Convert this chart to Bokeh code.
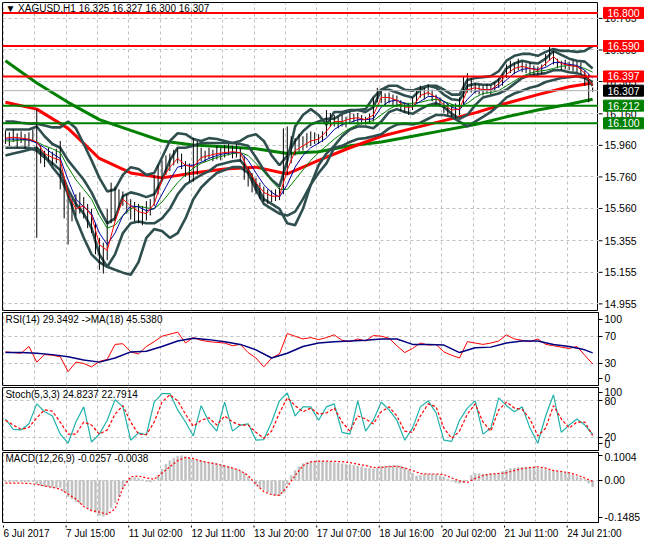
from bokeh.plotting import figure
from bokeh.layouts import column, row
from bokeh.models import Range1d, FixedTicker, Span, Grid, Label
from bokeh.core.properties import value
from bokeh.embed import file_html
from bokeh.resources import INLINE

# ---------------- data ----------------
title_text = "\u25bc XAGUSD,H1  16.325 16.327 16.300 16.307"
time_ticks = [0, 32, 64, 96, 128, 160, 192, 224, 256, 288]
time_labels = ["6 Jul 2017", "7 Jul 15:00", "11 Jul 02:00", "12 Jul 11:00", "13 Jul 20:00",
               "17 Jul 07:00", "18 Jul 16:00", "20 Jul 02:00", "21 Jul 11:00", "24 Jul 21:00"]
price_ticks = [16.765, 16.565, 16.365, 16.160, 15.960, 15.760, 15.560, 15.355, 15.155, 14.955]
price_tick_labels = ["16.765", "16.565", "16.365", "16.160", "15.960", "15.760", "15.560",
                     "15.355", "15.155", "14.955"]
red_levels = [16.800, 16.590, 16.397]
green_levels = [16.212, 16.100]
last_price = 16.307

bar_x = list(range(1, 302, 2))     # every second H1 bar
line_x = list(range(1, 302, 4))    # every fourth bar
slow_x = list(range(1, 290, 16)) + [301]
rsima_x = list(range(1, 298, 8)) + [301]

bar_high = [
16.055,16.043,16.061,16.037,16.049,16.031,16.043,16.061,16.190,15.957,
15.926,15.945,15.920,15.939,15.988,15.742,15.650,15.619,15.650,15.662,
15.632,15.589,15.558,15.466,15.374,15.343,15.558,15.724,15.699,15.681,
15.668,15.650,15.619,15.601,15.589,15.576,15.607,15.619,15.773,15.834,
15.865,15.896,15.908,15.932,15.939,15.908,15.859,15.846,16.006,15.988,
15.945,15.926,15.945,15.932,15.957,15.945,15.963,15.969,15.957,15.969,
15.945,15.896,15.822,15.785,15.754,15.724,15.699,15.681,15.675,15.681,
15.693,16.068,16.080,16.018,16.006,16.031,16.018,16.037,16.049,16.043,
16.031,16.049,16.184,16.166,16.153,16.141,16.153,16.141,16.172,16.160,
16.166,16.153,16.141,16.160,16.264,16.325,16.307,16.289,16.295,16.282,
16.276,16.246,16.233,16.227,16.264,16.307,16.338,16.325,16.344,16.313,
16.282,16.264,16.239,16.227,16.221,16.227,16.264,16.399,16.418,16.387,
16.356,16.344,16.338,16.350,16.338,16.362,16.387,16.411,16.473,16.497,
16.485,16.510,16.491,16.479,16.485,16.467,16.461,16.473,16.540,16.589,
16.559,16.510,16.497,16.503,16.491,16.497,16.491,16.485,16.436,16.411,
16.327]
bar_low = [
15.969,15.957,15.982,15.945,15.975,15.939,15.957,15.982,15.374,15.846,
15.822,15.859,15.834,15.846,15.681,15.497,15.331,15.478,15.515,15.527,
15.497,15.435,15.404,15.269,15.171,15.147,15.232,15.466,15.478,15.558,
15.576,15.527,15.490,15.478,15.466,15.454,15.484,15.515,15.576,15.650,
15.742,15.773,15.797,15.834,15.846,15.810,15.761,15.730,15.730,15.773,
15.859,15.853,15.877,15.859,15.871,15.865,15.883,15.896,15.877,15.883,
15.859,15.742,15.699,15.662,15.650,15.619,15.601,15.589,15.601,15.607,
15.613,15.650,15.773,15.846,15.896,15.920,15.926,15.945,15.957,15.969,
15.969,15.982,16.018,16.080,16.080,16.068,16.080,16.074,16.104,16.111,
16.104,16.092,16.092,16.098,16.111,16.233,16.227,16.215,16.227,16.215,
16.203,16.178,16.166,16.153,16.184,16.227,16.264,16.252,16.276,16.239,
16.215,16.203,16.166,16.153,16.141,16.129,16.153,16.215,16.295,16.295,
16.289,16.282,16.276,16.289,16.282,16.301,16.325,16.338,16.387,16.418,
16.411,16.436,16.424,16.418,16.411,16.405,16.399,16.411,16.461,16.497,
16.473,16.448,16.436,16.442,16.436,16.430,16.424,16.411,16.338,16.233,
16.300]

ma_fast = [
16.006,16.012,16.006,16.000,15.982,15.908,15.883,15.865,15.650,15.558,
15.576,15.515,15.331,15.294,15.478,15.619,15.576,15.540,15.527,15.589,
15.742,15.822,15.877,15.834,15.822,15.883,15.896,15.908,15.914,15.920,
15.914,15.804,15.724,15.662,15.638,15.638,15.804,15.926,15.957,15.988,
16.000,16.049,16.111,16.111,16.129,16.135,16.123,16.153,16.264,16.264,
16.246,16.203,16.203,16.276,16.295,16.264,16.215,16.184,16.190,16.313,
16.325,16.313,16.313,16.350,16.411,16.448,16.461,16.448,16.436,16.479,
16.522,16.479,16.467,16.461,16.418,16.338]
ma_mid = [
16.000,16.000,16.000,15.994,15.975,15.945,15.908,15.877,15.742,15.619,
15.570,15.527,15.404,15.331,15.404,15.515,15.576,15.570,15.546,15.558,
15.650,15.742,15.822,15.834,15.834,15.853,15.877,15.896,15.908,15.914,
15.914,15.865,15.785,15.711,15.662,15.632,15.711,15.822,15.896,15.945,
15.975,16.006,16.061,16.092,16.104,16.123,16.123,16.129,16.203,16.239,
16.246,16.227,16.209,16.239,16.270,16.270,16.239,16.203,16.184,16.252,
16.301,16.313,16.313,16.332,16.375,16.418,16.442,16.448,16.442,16.454,
16.485,16.485,16.473,16.467,16.436,16.387]
ma_basis = [
15.988,15.988,15.994,15.994,15.982,15.957,15.939,15.914,15.822,15.742,
15.681,15.619,15.515,15.435,15.454,15.515,15.558,15.576,15.564,15.558,
15.601,15.662,15.724,15.773,15.816,15.846,15.865,15.883,15.896,15.908,
15.914,15.896,15.846,15.791,15.736,15.681,15.681,15.742,15.804,15.865,
15.914,15.957,16.000,16.037,16.068,16.092,16.104,16.117,16.153,16.190,
16.215,16.227,16.227,16.233,16.246,16.252,16.239,16.221,16.203,16.227,
16.264,16.289,16.295,16.307,16.338,16.368,16.399,16.418,16.430,16.436,
16.448,16.461,16.467,16.461,16.448,16.424]
bb_outer_up = [
16.111,16.111,16.104,16.098,16.098,16.086,16.074,16.074,16.111,16.068,
15.969,15.865,15.754,15.668,15.681,15.773,15.822,15.810,15.773,15.785,
15.883,15.988,16.037,16.031,16.000,15.988,16.006,16.000,15.988,15.975,
15.988,16.018,16.031,15.988,15.896,15.834,15.896,15.988,16.049,16.092,
16.111,16.129,16.129,16.160,16.178,16.184,16.190,16.264,16.313,16.338,
16.338,16.313,16.307,16.325,16.338,16.338,16.313,16.282,16.282,16.375,
16.387,16.393,16.399,16.430,16.497,16.528,16.540,16.540,16.528,16.553,
16.571,16.559,16.559,16.553,16.559,16.589]
bb_outer_lo = [
15.896,15.908,15.920,15.932,15.945,15.896,15.822,15.761,15.650,15.497,
15.374,15.269,15.220,15.190,15.171,15.153,15.140,15.220,15.374,15.429,
15.417,15.374,15.404,15.497,15.619,15.693,15.742,15.785,15.804,15.822,
15.822,15.785,15.681,15.589,15.558,15.527,15.515,15.540,15.619,15.711,
15.785,15.846,15.945,15.957,15.982,16.000,16.006,16.018,16.031,16.068,
16.092,16.098,16.092,16.104,16.129,16.153,16.153,16.141,16.111,16.080,
16.111,16.141,16.172,16.215,16.264,16.289,16.307,16.325,16.338,16.362,
16.375,16.387,16.393,16.399,16.387,16.362]
bb_inner_up = [
16.061,16.061,16.061,16.061,16.080,16.018,15.969,15.945,15.865,15.804,
15.742,15.662,15.558,15.466,15.497,15.638,15.662,15.650,15.632,15.650,
15.742,15.865,15.945,15.945,15.957,15.975,15.975,15.975,15.975,15.975,
15.969,15.957,15.883,15.804,15.742,15.699,15.865,16.080,16.153,16.190,
16.153,16.092,16.172,16.172,16.184,16.184,16.172,16.203,16.313,16.313,
16.295,16.276,16.264,16.313,16.338,16.325,16.282,16.252,16.246,16.338,
16.350,16.344,16.344,16.375,16.448,16.479,16.497,16.485,16.479,16.510,
16.559,16.534,16.510,16.497,16.491,16.448]
bb_inner_lo = [
15.945,15.945,15.945,15.945,15.926,15.883,15.846,15.804,15.681,15.589,
15.527,15.435,15.269,15.190,15.269,15.404,15.466,15.478,15.466,15.466,
15.497,15.558,15.650,15.711,15.742,15.773,15.797,15.834,15.846,15.859,
15.865,15.804,15.711,15.619,15.589,15.558,15.466,15.454,15.558,15.711,
15.834,15.908,15.957,16.018,16.061,16.080,16.080,16.068,16.111,16.172,
16.190,16.172,16.160,16.190,16.215,16.227,16.203,16.160,16.129,16.153,
16.215,16.264,16.276,16.289,16.313,16.350,16.387,16.405,16.411,16.418,
16.436,16.436,16.424,16.418,16.399,16.338]
ma100 = [16.233,16.190,16.068,15.877,15.785,15.754,15.785,15.810,15.822,15.779,
         15.865,15.945,16.018,16.068,16.117,16.166,16.227,16.282,16.332,16.356]
ma200 = [16.497,16.356,16.233,16.123,16.055,15.988,15.963,15.951,15.939,15.908,
         15.920,15.957,15.982,16.018,16.055,16.092,16.141,16.184,16.221,16.252]

rsi = [47,46,45,55,32,43,42,40,18,32,
       30,25,33,36,58,59,47,44,55,62,
       70,73,76,60,68,64,62,61,60,56,
       58,46,38,25,38,44,74,70,66,68,
       65,68,72,64,62,66,63,71,70,67,
       56,46,52,60,57,58,47,42,38,62,
       60,58,60,63,72,66,64,62,66,58,
       56,54,52,55,42,29.35]
rsi_ma = [46,46,45,43,40,35,32,38,47,48,
          55,63,67,65,62,58,50,38,45,55,
          60,62,63,64,66,66,58,58,57,46,
          53,54,60,63,63,58,55,50,45.54]
stoch_k = [50,33,32,42,75,62,55,25,10,45,
           70,12,25,48,82,70,15,27,24,78,
           92,92,65,45,22,72,45,30,78,30,
           40,42,15,16,45,80,93,55,70,70,
           48,70,75,28,25,80,30,48,78,65,
           48,15,35,70,80,60,15,13,48,68,
           80,25,35,85,72,62,70,35,10,55,
           90,28,40,50,40,24.82]
stoch_d = [48,40,33,36,52,65,63,45,25,25,
           45,40,25,32,58,72,45,25,24,45,
           78,90,80,58,38,48,52,40,55,45,
           40,40,28,18,30,60,85,72,62,68,
           58,60,68,45,30,55,50,42,62,70,
           55,30,28,55,75,70,35,18,30,58,
           75,45,30,65,78,68,66,50,22,35,
           72,50,35,45,45,22.79]
macd_hist = [
-0.004,-0.005,-0.005,-0.004,-0.005,-0.006,-0.005,-0.004,
-0.015,-0.020,-0.024,-0.026,-0.028,-0.030,-0.028,
-0.045,-0.065,-0.075,-0.085,-0.092,-0.100,
-0.110,-0.118,-0.130,-0.142,-0.145,
-0.135,-0.110,-0.090,-0.065,-0.035,-0.010,
0.010,0.012,0.008,0.003,-0.004,-0.006,0.002,
0.020,0.045,0.065,0.080,0.090,0.098,0.100,
0.096,0.090,0.085,0.082,0.080,0.075,0.072,0.070,0.068,0.066,
0.060,0.055,0.050,0.045,0.038,0.030,
0.015,-0.002,-0.015,
-0.028,-0.038,-0.048,-0.055,-0.060,-0.062,-0.050,
-0.015,0.020,0.040,0.055,
0.068,0.074,0.077,0.078,0.079,0.078,
0.076,0.075,0.073,0.070,0.068,0.066,0.064,0.060,0.058,0.055,0.050,0.048,0.046,
0.050,0.055,0.058,0.060,0.060,0.060,0.058,0.052,0.042,
0.030,0.018,0.020,0.024,0.026,0.026,0.024,0.020,0.015,
0.005,-0.003,-0.008,-0.012,-0.010,0.000,0.020,
0.028,0.028,0.026,0.025,0.027,0.028,0.030,0.036,0.042,
0.048,0.050,0.052,0.053,0.054,0.054,0.053,0.050,0.048,
0.044,0.040,0.037,0.035,0.032,0.030,0.027,0.022,
0.015,0.010,0.004,-0.010,-0.0257]
macd_signal = [
-0.011,-0.011,-0.011,-0.012,-0.016,-0.022,-0.028,-0.035,-0.055,-0.075,
-0.105,-0.122,-0.128,-0.137,-0.115,-0.030,0.015,0.018,0.010,0.005,
0.030,0.055,0.080,0.093,0.088,0.078,0.072,0.066,0.058,0.050,
0.040,0.020,-0.015,-0.045,-0.058,-0.060,-0.025,0.020,0.060,0.075,
0.078,0.078,0.077,0.076,0.072,0.066,0.060,0.052,0.053,0.056,
0.057,0.050,0.040,0.028,0.026,0.026,0.024,0.010,-0.002,-0.008,
0.008,0.020,0.026,0.028,0.031,0.040,0.048,0.052,0.055,0.050,
0.040,0.036,0.031,0.022,0.010,-0.0038]

# ---------------- styling ----------------
FW = 596
RIGHT = 46
FONT = "Liberation Sans"
FS = "10.5px"
GRID_C = "#C0C0C0"
SLATE = "#2F4F4F"
X0, X1 = -0.5, 304.0
xr = Range1d(X0, X1)
vticks = list(range(0, 305, 16))


def panel(h, ylo, yhi, axis_ticks, grid_ticks, top=0, right=30, yaxis=True):
    p = figure(frame_width=FW, frame_height=h, x_range=xr, y_range=Range1d(ylo, yhi),
               output_backend="svg", toolbar_location=None,
               y_axis_location="right" if yaxis else None, x_axis_location=None,
               min_border_left=2, min_border_right=right, min_border_top=top,
               min_border_bottom=2, background_fill_color="white", border_fill_color="white")
    p.outline_line_color = "black"
    p.outline_line_width = 1
    p.grid.visible = False
    p.add_layout(Grid(dimension=0, ticker=FixedTicker(ticks=vticks), grid_line_color=GRID_C,
                      grid_line_dash="3 3", level="underlay"))
    p.add_layout(Grid(dimension=1, ticker=FixedTicker(ticks=grid_ticks), grid_line_color=GRID_C,
                      grid_line_dash="3 3", level="underlay"))
    if yaxis:
        ax = p.yaxis[0]
        ax.ticker = FixedTicker(ticks=axis_ticks)
        ax.axis_line_color = "black"
        ax.major_tick_out = 4
        ax.major_tick_in = 0
        ax.minor_tick_line_color = None
        ax.major_label_standoff = 2
        ax.major_label_text_font = FONT
        ax.major_label_text_font_size = FS
        ax.major_label_text_color = "black"
    return p


def tag(p, x, y, text, size="10px"):
    p.add_layout(Label(x=x, y=y, text=text, text_font=FONT, text_font_size=size,
                       text_color="black", text_baseline="top", text_align="left"))


# ---------------- main price panel ----------------
MAIN_H = 308
p1 = panel(MAIN_H, 14.913, 16.866, price_ticks, price_ticks, top=2, right=0, yaxis=False)

p1.line(slow_x, ma200, line_color="#008000", line_width=3)
p1.line(slow_x, ma100, line_color="#FF0000", line_width=3)
p1.line(line_x, bb_outer_up, line_color=SLATE, line_width=2.6)
p1.line(line_x, bb_outer_lo, line_color=SLATE, line_width=2.6)
p1.line(line_x, bb_inner_up, line_color=SLATE, line_width=2.6)
p1.line(line_x, bb_inner_lo, line_color=SLATE, line_width=2.6)

for lv in red_levels:
    p1.add_layout(Span(location=lv, dimension="width", line_color="#FF0000", line_width=2))
for lv in green_levels:
    p1.add_layout(Span(location=lv, dimension="width", line_color="#008000", line_width=2))
p1.add_layout(Span(location=last_price, dimension="width", line_color="#B0B0B0", line_width=1))

p1.segment(x0=bar_x, x1=bar_x, y0=bar_low, y1=bar_high, line_color="black", line_width=1)
p1.line(line_x, ma_basis, line_color="#008000", line_width=1)
p1.line(line_x, ma_mid, line_color="#0000A0", line_width=1)
p1.line(line_x, ma_fast, line_color="#FF0000", line_width=1)

tag(p1, 1, 16.864, title_text)

# price scale strip on the right of the main panel (tick labels + level tags)
side = figure(frame_width=RIGHT, frame_height=MAIN_H, x_range=Range1d(0, RIGHT), y_range=p1.y_range,
              output_backend="svg", toolbar_location=None, x_axis_location=None,
              y_axis_location=None, min_border_left=0, min_border_right=0, min_border_top=2,
              min_border_bottom=2, background_fill_color="white", border_fill_color="white")
side.outline_line_color = None
side.grid.visible = False
side.segment(x0=0, x1=4, y0=price_ticks, y1=price_ticks, line_color="black", line_width=1)
side.text(x=6, y=price_ticks, text=price_tick_labels, text_baseline="middle", text_align="left",
          text_font=value(FONT), text_font_size=FS, text_color="black")

tag_levels = red_levels + [last_price] + green_levels
tag_colors = ["#FF0000"] * 3 + ["#000000"] + ["#008000"] * 2
tag_texts = ["%.3f" % v for v in tag_levels]
side.rect(x=25, y=tag_levels, width=40, height=11, height_units="screen",
          fill_color=tag_colors, line_color=tag_colors)
side.text(x=25, y=tag_levels, text=tag_texts, text_baseline="middle", text_align="center",
          text_font=value(FONT), text_font_size=FS, text_color="white")

# ---------------- RSI ----------------
p2 = panel(73, -2.3, 104.8, [8, 30, 70, 95], [30, 70])
p2.yaxis[0].major_label_overrides = {8: "0", 30: "30", 70: "70", 95: "100"}
p2.line(line_x, rsi, line_color="#FF0000", line_width=1)
p2.line(rsima_x, rsi_ma, line_color="#000080", line_width=1.5)
tag(p2, 1, 102.5, "RSI(14) 29.3492  ->MA(18) 45.5380")

# ---------------- Stochastic ----------------
p3 = panel(63, -2, 102, [9, 20, 80, 94], [20, 80])
p3.yaxis[0].major_label_overrides = {9: "0", 20: "20", 80: "80", 94: "100"}
p3.line(line_x, stoch_k, line_color="#20B2AA", line_width=1.2)
p3.line(line_x, stoch_d, line_color="#FF0000", line_width=1.2, line_dash="3 2")
tag(p3, 1, 99.5, "Stoch(5,3,3) 24.8237 22.7914")

# ---------------- MACD ----------------
p4 = panel(70, -0.170, 0.113, [-0.1485, 0.0, 0.1004], [0.0], right=RIGHT)
p4.yaxis[0].major_label_overrides = {-0.1485: "-0.1485", 0.0: "0.00", 0.1004: "0.1004"}
p4.min_border_bottom = 3
p4.vbar(x=bar_x, top=macd_hist, bottom=0, width=1.0, fill_color="#C0C0C0",
        line_color="#C0C0C0", line_width=0.5)
p4.line(line_x, macd_signal, line_color="#FF0000", line_width=1.2, line_dash="2 2")
tag(p4, 1, 0.109, "MACD(12,26,9) -0.0257 -0.0038")

# ---------------- time scale strip (left-aligned labels as in the terminal) ----------------
bars_per_px = (X1 - X0) / FW
TH = 17
tx = figure(frame_width=FW + RIGHT, frame_height=TH,
            x_range=Range1d(X0, X1 + RIGHT * bars_per_px), y_range=Range1d(0, TH),
            output_backend="svg", toolbar_location=None, x_axis_location=None,
            y_axis_location=None, min_border_left=2, min_border_right=0, min_border_top=0,
            min_border_bottom=0, background_fill_color="white", border_fill_color="white")
tx.outline_line_color = None
tx.grid.visible = False
tx.segment(x0=time_ticks, x1=time_ticks, y0=TH + 3, y1=TH - 2, line_color="black", line_width=1)
tx.text(x=time_ticks, y=TH - 2, text=time_labels, text_baseline="top", text_align="left",
        text_font=value(FONT), text_font_size="10px", text_color="black")

layout = column(row(p1, side, spacing=0), p2, p3, p4, tx, spacing=0)
open("out.html", "w").write(file_html(layout, INLINE))
